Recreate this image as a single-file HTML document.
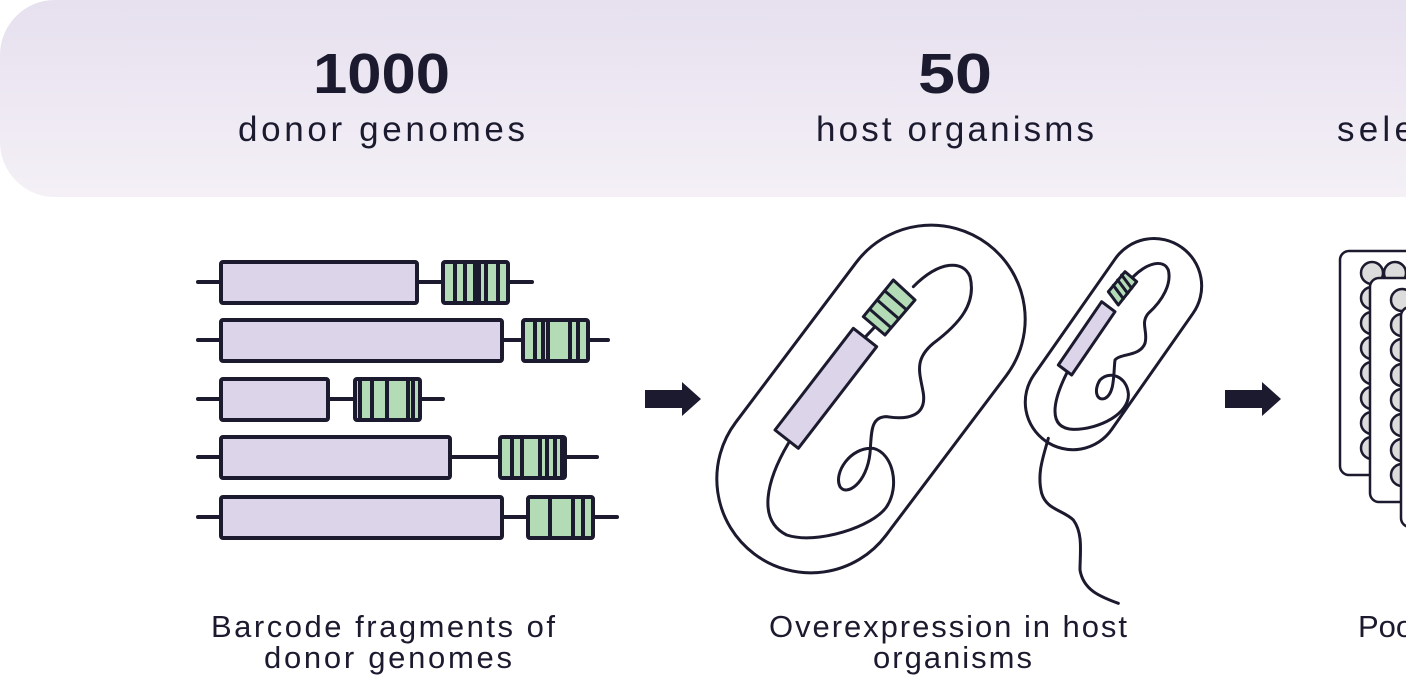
<!DOCTYPE html>
<html><head><meta charset="utf-8"><style>
html,body{margin:0;padding:0;background:#fff;}
svg{display:block;}
text{font-family:"Liberation Sans",sans-serif;fill:#1b1a2e;}
</style></head><body>
<svg width="1406" height="677" viewBox="0 0 1406 677" xmlns="http://www.w3.org/2000/svg">
<defs>
<linearGradient id="bg" x1="0" y1="0" x2="0" y2="1">
<stop offset="0" stop-color="#e6e0ef"/><stop offset="1" stop-color="#f4f0f6"/>
</linearGradient>
</defs>
<rect x="0" y="0" width="1500" height="197" rx="55" fill="url(#bg)"/>
<text x="313" y="93" font-size="57" font-weight="bold" textLength="137" lengthAdjust="spacingAndGlyphs">1000</text>
<text x="238" y="141" font-size="35" textLength="287" lengthAdjust="spacing">donor genomes</text>
<text x="918" y="93" font-size="57" font-weight="bold" textLength="74" lengthAdjust="spacingAndGlyphs">50</text>
<text x="816" y="141" font-size="35" textLength="278" lengthAdjust="spacing">host organisms</text>
<text x="1337" y="141" font-size="35" textLength="160" lengthAdjust="spacing">selected</text>

<g stroke="#1b1a2e" stroke-width="4" fill="none" stroke-linecap="round">
<line x1="198" y1="282" x2="532" y2="282"/>
<rect x="221" y="262" width="196" height="41" rx="2" fill="#dcd4e8"/>
<rect x="443" y="262" width="65" height="41" rx="2" fill="#b3dcb6"/>
<path d="M455 262V303M465 262V303M475 262V303M479 262V303M486 262V303M498 262V303"/>
<line x1="198" y1="340" x2="608" y2="340"/>
<rect x="221" y="320" width="281" height="41" rx="2" fill="#dcd4e8"/>
<rect x="523" y="320" width="65" height="41" rx="2" fill="#b3dcb6"/>
<path d="M535 320V361M543 320V361M548 320V361M570 320V361M578 320V361"/>
<line x1="198" y1="399" x2="443" y2="399"/>
<rect x="221" y="379" width="107" height="41" rx="2" fill="#dcd4e8"/>
<rect x="355" y="379" width="65" height="41" rx="2" fill="#b3dcb6"/>
<path d="M360 379V420M372 379V420M387 379V420M408 379V420M413 379V420"/>
<line x1="198" y1="457" x2="597" y2="457"/>
<rect x="221" y="437" width="229" height="41" rx="2" fill="#dcd4e8"/>
<rect x="500" y="437" width="65" height="41" rx="2" fill="#b3dcb6"/>
<path d="M512 437V478M522 437V478M540 437V478M547 437V478M555 437V478M562 437V478"/>
<line x1="198" y1="517" x2="617" y2="517"/>
<rect x="221" y="497" width="281" height="41" rx="2" fill="#dcd4e8"/>
<rect x="528" y="497" width="65" height="41" rx="2" fill="#b3dcb6"/>
<path d="M550 497V538M573 497V538M583 497V538"/>
</g>

<path d="M645 390H682V382L701 399L682 416V408H645Z" fill="#1b1a2e"/>
<path d="M1225 390H1262V382L1281 399L1262 416V408H1225Z" fill="#1b1a2e"/>

<g transform="translate(700,220) scale(0.33333)" stroke="#1b1a2e" stroke-width="9" fill="none" stroke-linejoin="round" stroke-linecap="round">
<rect x="-582" y="-282" width="1164" height="564" rx="282" transform="translate(513,537) rotate(-53)"/>
<path d="M265,670 C200,780 170,900 260,945 C350,975 520,920 560,860 C600,800 580,700 520,685 C450,680 400,760 420,800 C440,830 500,790 510,700 C515,640 510,590 560,590 C620,600 680,590 670,520 C660,460 640,420 700,370 C780,310 830,250 810,170 C790,120 720,120 640,200"/>
<line x1="495" y1="352" x2="525" y2="320"/>
<polygon points="225,630 295,685 530,380 460,325" fill="#dcd4e8"/>
<polygon points="490,290 555,345 645,240 580,180" fill="#b3dcb6"/>
<path d="M510,268 L573,323 M533,241 L596,296 M556,214 L619,269"/>

<rect x="-355" y="-142" width="710" height="285" rx="142" transform="translate(1240,372) rotate(-55)"/>
<path d="M1100,460 C1060,540 1040,625 1120,628 C1200,628 1290,580 1285,520 C1280,470 1230,450 1200,480 C1180,510 1190,545 1215,535 C1245,520 1240,460 1245,420 C1260,400 1320,410 1335,370 C1345,335 1320,310 1345,280 C1390,240 1415,190 1405,150 C1390,115 1340,130 1300,170"/>
<path d="M1045,655 C1030,710 1010,760 1025,820 C1040,870 1090,870 1120,900 C1150,940 1140,1000 1140,1050 C1150,1110 1200,1130 1255,1150"/>
<polygon points="1075,435 1115,465 1245,275 1205,245" fill="#dcd4e8"/>
<polygon points="1225,215 1255,255 1310,185 1275,155" fill="#b3dcb6"/>
<path d="M1240,196 L1270,236 M1253,180 L1283,220 M1265,165 L1295,205"/>
</g>

<g stroke="#1b1a2e" stroke-width="2.5">
<rect x="1340" y="251" width="120" height="224" rx="9" fill="#fff"/>
<g fill="#dcdcdc">
<circle cx="1395" cy="273" r="11"/>
<circle cx="1372" cy="273" r="11"/><circle cx="1372" cy="298" r="11"/><circle cx="1372" cy="323" r="11"/><circle cx="1372" cy="348" r="11"/><circle cx="1372" cy="373" r="11"/><circle cx="1372" cy="398" r="11"/><circle cx="1372" cy="423" r="11"/><circle cx="1372" cy="448" r="11"/>
</g>
<rect x="1370" y="278" width="120" height="224" rx="9" fill="#fff"/>
<g fill="#dcdcdc">
<circle cx="1402" cy="300" r="11"/><circle cx="1402" cy="325" r="11"/><circle cx="1402" cy="350" r="11"/><circle cx="1402" cy="375" r="11"/><circle cx="1402" cy="400" r="11"/><circle cx="1402" cy="425" r="11"/><circle cx="1402" cy="450" r="11"/><circle cx="1402" cy="475" r="11"/>
</g>
<rect x="1401" y="307" width="120" height="220" rx="9" fill="#fff"/>
</g>

<text x="211" y="637" font-size="31" textLength="344" lengthAdjust="spacing">Barcode fragments of</text>
<text x="264" y="668" font-size="31" textLength="248" lengthAdjust="spacing">donor genomes</text>
<text x="769" y="637" font-size="31" textLength="358" lengthAdjust="spacing">Overexpression in host</text>
<text x="873" y="668" font-size="31" textLength="159" lengthAdjust="spacing">organisms</text>
<text x="1358" y="637" font-size="31">Pooled</text>
</svg>
</body></html>
